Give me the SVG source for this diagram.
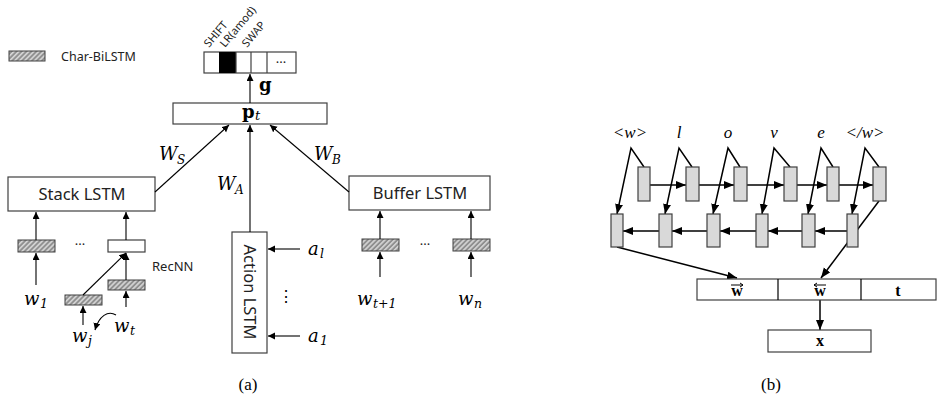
<svg xmlns="http://www.w3.org/2000/svg" width="938" height="405" viewBox="0 0 938 405">
<defs>
<pattern id="hatch" width="3.5" height="3.5" patternUnits="userSpaceOnUse" patternTransform="rotate(45)">
<rect width="3.5" height="3.5" fill="#8f8f8f"/>
<line x1="0.8" y1="0" x2="0.8" y2="3.5" stroke="#e6e6e6" stroke-width="1.3"/>
</pattern>
<marker id="ah" markerUnits="userSpaceOnUse" markerWidth="8" markerHeight="8" refX="7" refY="3.5" orient="auto">
<path d="M0,0 L7,3.5 L0,7 Z" fill="#000"/>
</marker>
<marker id="bh" markerUnits="userSpaceOnUse" markerWidth="11" markerHeight="10" refX="10" refY="4" orient="auto">
<path d="M0,0 L10,4 L0,8 Z" fill="#000"/>
</marker>
</defs>
<style>
.box{fill:#fff;stroke:#404040;stroke-width:1.2}
.hb{fill:url(#hatch);stroke:#404040;stroke-width:1}
.cell{fill:#d9d9d9;stroke:#404040;stroke-width:1.2}
.la{stroke:#000;stroke-width:1.1;fill:none;marker-end:url(#ah)}
.lb{stroke:#000;stroke-width:1.5;fill:none;marker-end:url(#bh)}
.sans{font-family:"Noto Sans","Open Sans",sans-serif;fill:#222}
.math{font-family:"DejaVu Serif","Liberation Serif",serif;font-style:italic;fill:#000}
.bold{font-family:"DejaVu Serif","Liberation Serif",serif;font-weight:bold;fill:#000}
.tim{font-family:"Liberation Serif","Times New Roman",serif;fill:#000}
</style>

<g id="legend">
<rect class="hb" x="9" y="51" width="36" height="10"/>
<text class="sans" x="61" y="61" font-size="12.5">Char-BiLSTM</text>
</g>

<g id="g-vector">
<rect class="box" x="204" y="52" width="92" height="21"/>
<rect x="219" y="52" width="17" height="21" fill="#000"/>
<line x1="251" y1="52" x2="251" y2="73" stroke="#404040" stroke-width="1.2"/>
<line x1="267" y1="52" x2="267" y2="73" stroke="#404040" stroke-width="1.2"/>
<line x1="236" y1="52" x2="236" y2="73" stroke="#404040" stroke-width="1.2"/>
<text class="sans" x="281" y="67" font-size="13" text-anchor="middle">···</text>
<text class="sans" font-size="11" transform="translate(209,48) rotate(-50)">SHIFT</text>
<text class="sans" font-size="11" transform="translate(225,48) rotate(-50)">LR(amod)</text>
<text class="sans" font-size="11" transform="translate(247,48) rotate(-50)">SWAP</text>
<text class="bold" x="259" y="91" font-size="18">g</text>
</g>

<g id="pt">
<rect class="box" x="173" y="103" width="154" height="21"/>
<text class="bold" x="242" y="118" font-size="18">p</text>
<text class="math" x="255" y="120" font-size="13">t</text>
</g>

<g id="stack-lstm">
<rect class="box" x="8" y="177" width="147" height="34"/>
<text class="sans" x="82" y="200" font-size="16.5" text-anchor="middle">Stack LSTM</text>
</g>

<g id="buffer-lstm">
<rect class="box" x="349" y="176" width="141" height="34"/>
<text class="sans" x="420" y="199" font-size="16.5" text-anchor="middle">Buffer LSTM</text>
</g>

<g id="action-lstm">
<rect class="box" x="232" y="232" width="35" height="121"/>
<text class="sans" font-size="16.5" text-anchor="middle" transform="translate(244,292) rotate(90)">Action LSTM</text>
</g>

<g id="stack-inputs">
<rect class="hb" x="18" y="240" width="37" height="12"/>
<text class="sans" x="80" y="249" font-size="13" text-anchor="middle">···</text>
<rect class="box" x="108" y="240" width="37" height="12"/>
<rect class="hb" x="108" y="280" width="37" height="10"/>
<rect class="hb" x="65" y="295" width="37" height="10"/>
<text class="sans" x="152" y="271" font-size="13">RecNN</text>
<text class="math" x="24" y="305" font-size="18">w</text><text class="math" x="40" y="308" font-size="12.5">1</text>
<text class="math" x="114" y="332" font-size="18">w</text><text class="math" x="130" y="335" font-size="12.5">t</text>
<text class="math" x="72" y="342" font-size="18">w</text><text class="math" x="88" y="345" font-size="12.5">j</text>
</g>

<g id="buffer-inputs">
<rect class="hb" x="362" y="239" width="37" height="12"/>
<text class="sans" x="425" y="249" font-size="13" text-anchor="middle">···</text>
<rect class="hb" x="453" y="239" width="37" height="12"/>
<text class="math" x="357" y="305" font-size="18">w</text><text class="math" x="373" y="308" font-size="12.5">t+1</text>
<text class="math" x="458" y="305" font-size="18">w</text><text class="math" x="474" y="308" font-size="12.5">n</text>
</g>

<g id="action-inputs">
<text class="math" x="308" y="255" font-size="18">a</text><text class="math" x="320" y="258" font-size="12.5">l</text>
<text class="math" x="308" y="342" font-size="18">a</text><text class="math" x="320" y="345" font-size="12.5">1</text>
<text class="tim" x="286" y="302" font-size="16" text-anchor="middle">⋮</text>
</g>

<g id="labels-a">
<text class="math" x="159" y="160" font-size="18">W</text><text class="math" x="177" y="164" font-size="12">S</text>
<text class="math" x="217" y="190" font-size="18">W</text><text class="math" x="235" y="194" font-size="12">A</text>
<text class="math" x="314" y="160" font-size="18">W</text><text class="math" x="332" y="164" font-size="12">B</text>
</g>

<g id="char-labels">
<text class="tim" font-style="italic" font-size="17" text-anchor="middle" x="630" y="138">&lt;w&gt;</text>
<text class="tim" font-style="italic" font-size="17" text-anchor="middle" x="679" y="138">l</text>
<text class="tim" font-style="italic" font-size="17" text-anchor="middle" x="728" y="138">o</text>
<text class="tim" font-style="italic" font-size="17" text-anchor="middle" x="774" y="138">v</text>
<text class="tim" font-style="italic" font-size="17" text-anchor="middle" x="821" y="138">e</text>
<text class="tim" font-style="italic" font-size="17" text-anchor="middle" x="865" y="138">&lt;/w&gt;</text>
</g>

<g id="connectors">
<line class="la" x1="250" y1="103" x2="250" y2="74"/>
<line class="la" x1="155" y1="192" x2="229" y2="125"/>
<line class="la" x1="250" y1="232" x2="250" y2="125"/>
<line class="la" x1="349" y1="192" x2="270" y2="125"/>
<line class="la" x1="36" y1="240" x2="36" y2="212"/>
<line class="la" x1="36" y1="285" x2="36" y2="253"/>
<line class="la" x1="126" y1="240" x2="126" y2="212"/>
<line class="la" x1="126" y1="280" x2="126" y2="253"/>
<line class="la" x1="126" y1="307" x2="126" y2="291"/>
<line class="la" x1="83" y1="295" x2="126" y2="253"/>
<line class="la" x1="83" y1="325" x2="83" y2="306"/>
<path class="la" d="M116,315 C108,310 99,316 95,330"/>
<line class="la" x1="380" y1="239" x2="380" y2="211"/>
<line class="la" x1="380" y1="277" x2="380" y2="252"/>
<line class="la" x1="471" y1="239" x2="471" y2="211"/>
<line class="la" x1="471" y1="277" x2="471" y2="252"/>
<line class="la" x1="300" y1="249" x2="268" y2="249"/>
<line class="la" x1="300" y1="336" x2="268" y2="336"/>
<line class="lb" x1="650" y1="185" x2="686" y2="185"/>
<line class="lb" x1="699" y1="185" x2="734" y2="185"/>
<line class="lb" x1="747" y1="185" x2="784" y2="185"/>
<line class="lb" x1="797" y1="185" x2="827" y2="185"/>
<line class="lb" x1="839" y1="185" x2="873" y2="185"/>
<line class="lb" x1="847" y1="231" x2="815" y2="231"/>
<line class="lb" x1="802" y1="231" x2="768" y2="231"/>
<line class="lb" x1="756" y1="231" x2="720" y2="231"/>
<line class="lb" x1="707" y1="231" x2="672" y2="231"/>
<line class="lb" x1="659" y1="231" x2="623" y2="231"/>
<polyline class="lb" points="644,167 631,148 617,214"/>
<polyline class="lb" points="692,167 679,148 665,214"/>
<polyline class="lb" points="740,167 728,148 713,214"/>
<polyline class="lb" points="790,167 774,148 762,214"/>
<polyline class="lb" points="833,167 821,148 808,214"/>
<polyline class="lb" points="879,167 865,148 852,214"/>
<line class="lb" x1="617" y1="247" x2="737" y2="278"/>
<line class="lb" x1="879" y1="201" x2="821" y2="278"/>
<line class="lb" x1="820" y1="300" x2="820" y2="330"/>
</g>

<g id="fwd-cells">
<rect class="cell" x="638" y="167" width="12" height="34"/>
<rect class="cell" x="686" y="167" width="13" height="34"/>
<rect class="cell" x="734" y="167" width="13" height="34"/>
<rect class="cell" x="784" y="167" width="13" height="34"/>
<rect class="cell" x="827" y="167" width="12" height="34"/>
<rect class="cell" x="873" y="167" width="13" height="34"/>
</g>
<g id="bwd-cells">
<rect class="cell" x="611" y="214" width="12" height="33"/>
<rect class="cell" x="659" y="214" width="13" height="33"/>
<rect class="cell" x="707" y="214" width="13" height="33"/>
<rect class="cell" x="756" y="214" width="12" height="33"/>
<rect class="cell" x="802" y="214" width="13" height="33"/>
<rect class="cell" x="847" y="214" width="11" height="33"/>
</g>

<g id="word-vector">
<rect class="box" x="697" y="279" width="239" height="21" stroke="#000"/>
<line x1="778" y1="279" x2="778" y2="300" stroke="#000" stroke-width="1.2"/>
<line x1="861" y1="279" x2="861" y2="300" stroke="#000" stroke-width="1.2"/>
<text class="tim" font-weight="bold" font-size="16" text-anchor="middle" x="737" y="296">w</text>
<path d="M731,285 H743 M740,283 L743,285 L740,287" stroke="#000" stroke-width="1" fill="none"/>
<text class="tim" font-weight="bold" font-size="16" text-anchor="middle" x="820" y="296">w</text>
<path d="M814,285 H826 M817,283 L814,285 L817,287" stroke="#000" stroke-width="1" fill="none"/>
<text class="tim" font-weight="bold" font-size="16" text-anchor="middle" x="898" y="296">t</text>
</g>

<g id="x-node">
<rect class="box" x="768" y="330" width="103" height="22" stroke="#000"/>
<text class="tim" font-weight="bold" font-size="16" text-anchor="middle" x="820" y="346">x</text>
</g>

<g id="captions">
<text class="tim" font-size="17" text-anchor="middle" x="248" y="390">(a)</text>
<text class="tim" font-size="17" text-anchor="middle" x="771" y="390">(b)</text>
</g>
</svg>
